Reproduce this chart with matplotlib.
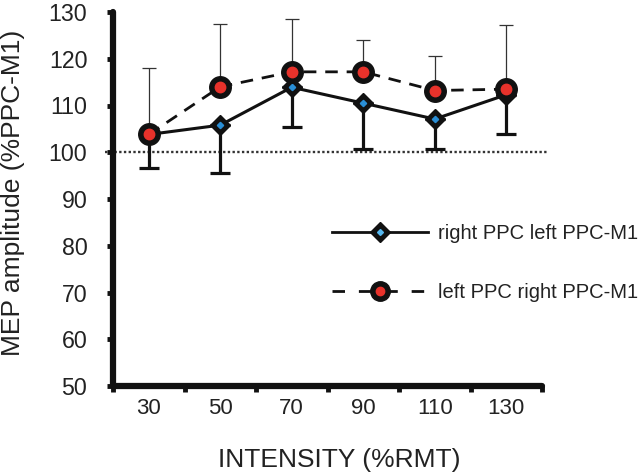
import matplotlib
matplotlib.use("Agg")
import matplotlib.pyplot as plt
from matplotlib.lines import Line2D
from matplotlib.legend_handler import HandlerTuple

plt.rcParams['font.family'] = ['Liberation Sans', 'DejaVu Sans']

intensity = ["30", "50", "70", "90", "110", "130"]
right_mean = [103.8, 105.8, 113.9, 110.5, 107.1, 112.3]
right_err_low = [7.1, 10.2, 8.6, 9.7, 6.5, 8.3]
left_mean = [103.8, 114.0, 117.2, 117.2, 113.2, 113.5]
left_err_up = [14.3, 13.5, 11.2, 6.8, 7.4, 13.7]
yticks = [50, 60, 70, 80, 90, 100, 110, 120, 130]
baseline = 100
labels = ['right PPC left PPC-M1', 'left PPC right PPC-M1']

fig = plt.figure(figsize=(6.4, 4.76), dpi=100)
ax = fig.add_axes([113/640, 1-386/476, 429/640, 374/476])

x = [i + 0.5 for i in range(len(intensity))]
txt = '#222222'
blk = '#111111'
dash = (0, (4.5, 3.2))

# baseline
ax.axhline(baseline, xmin=-0.019, xmax=1.014, color='#333333', lw=1.7,
           ls=(0, (1, 1)), zorder=1, clip_on=False)

# error bars
ax.errorbar(x, right_mean, yerr=[right_err_low, [0]*6], fmt='none',
            ecolor=blk, elinewidth=2.3, capsize=7, capthick=2.3, zorder=2)
ax.errorbar(x, left_mean, yerr=[[0]*6, left_err_up], fmt='none',
            ecolor='#333333', elinewidth=0.9, capsize=5, capthick=0.9, zorder=2)

# right PPC series (solid, diamonds)
ax.plot(x, right_mean, color=blk, lw=2.2, zorder=3)
ax.plot(x, right_mean, ls='none', marker='D', ms=10.5, color=blk, zorder=4)
ax.plot(x, right_mean, ls='none', marker='D', ms=3.2, color='#2a8fd6', zorder=5)

# left PPC series (dashed, circles)
ax.plot(x, left_mean, color=blk, lw=2.0, ls=dash, zorder=6)
ax.plot(x, left_mean, ls='none', marker='o', ms=15.5, color=blk, zorder=7)
ax.plot(x, left_mean, ls='none', marker='o', ms=7.5, color='#e8322b', zorder=8)

ax.set_xlim(0, 6)
ax.set_ylim(50, 130)
ax.set_yticks(yticks)
ax.set_xticks(x)
ax.set_xticklabels(intensity)
ax.set_xticks(list(range(7)), minor=True)
ax.tick_params(axis='x', which='major', length=0, pad=9, labelsize=16, labelcolor=txt)
ax.tick_params(axis='x', which='minor', length=4.5, width=3.5, direction='out', color=blk)
ax.tick_params(axis='y', length=4.5, width=3.5, direction='out', color=blk,
               pad=14, labelsize=16.7, labelcolor=txt)

for s in ['top', 'right']:
    ax.spines[s].set_visible(False)
for s in ['left', 'bottom']:
    ax.spines[s].set_linewidth(4.5)
    ax.spines[s].set_color(blk)
    ax.spines[s].set_capstyle('round')

ax.set_ylabel('MEP amplitude (%PPC-M1)', fontsize=19, color=txt)
ax.set_xlabel('INTENSITY (%RMT)', fontsize=19, color=txt)
ax.yaxis.set_label_coords(-0.205, 0.517)
ax.xaxis.set_label_coords(0.527, -0.166)

h1 = (Line2D([], [], color=blk, lw=2.0),
      Line2D([], [], ls='none', marker='D', ms=10, color=blk),
      Line2D([], [], ls='none', marker='D', ms=3, color='#56b8f0'))
h2 = (Line2D([], [], color=blk, lw=2.0, ls=(0, (4.5, 5))),
      Line2D([], [], ls='none', marker='o', ms=14, color=blk),
      Line2D([], [], ls='none', marker='o', ms=6, color='#e8322b'))
leg = ax.legend([h1, h2], labels,
                handler_map={tuple: HandlerTuple(ndivide=1, pad=0)},
                loc='center left', bbox_to_anchor=(332/640, 1-263/476),
                bbox_transform=fig.transFigure, frameon=False,
                borderpad=0, borderaxespad=0,
                fontsize=14.5, handlelength=4.75, handletextpad=0.5,
                labelspacing=2.0, labelcolor=txt)

fig.savefig('out.png', dpi=100)
